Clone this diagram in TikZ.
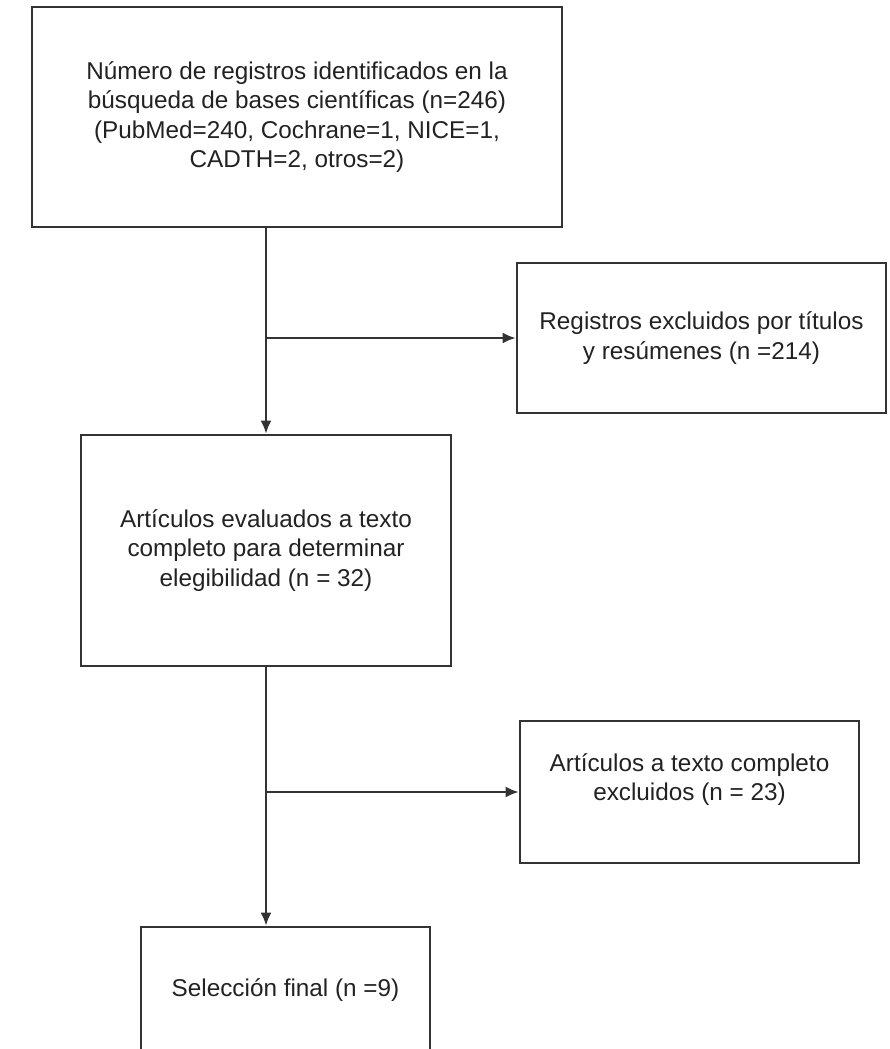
\documentclass[tikz,border=0pt]{standalone}
\usepackage{fontspec}
\setmainfont{Liberation Sans}
\usetikzlibrary{arrows.meta}
\definecolor{inkline}{HTML}{333333}
\definecolor{inktext}{HTML}{222222}

\begin{document}
\begin{tikzpicture}[x=1pt,y=-1pt,
  item/.style={rectangle,draw=inkline,line width=2.6pt,align=center,text=inktext,
    font=\fontsize{24.3}{29.5}\selectfont,inner sep=0pt},
  link/.style={draw=inkline,line width=2.2pt,-{Latex[length=13pt,width=11pt]}}]
 \clip (0,0) rectangle (889,1049);

 \node[item,minimum width=530pt,minimum height=220pt] (reg) at (297,117)
   {Número de registros identificados en la\\búsqueda de bases científicas (n=246)\\(PubMed=240, Cochrane=1, NICE=1,\\CADTH=2, otros=2)};
 \node[item,minimum width=369pt,minimum height=150pt] (exc1) at (701.5,338)
   {Registros excluidos por títulos\\y resúmenes (n =214)};
 \node[item,minimum width=370pt,minimum height=231pt] (art) at (266,550.5)
   {Artículos evaluados a texto\\completo para determinar\\elegibilidad (n = 32)};
 \node[item,minimum width=339pt,minimum height=142pt] (exc2) at (689.5,792)
   {Artículos a texto completo\\excluidos (n = 23)\\~};
 \node[item,minimum width=289pt,minimum height=126pt] (sel) at (285.5,990)
   {Selección final (n =9)};

 % flujo
 \draw[link] (reg.south -| art.north) -- (art.north);
 \draw[link] (art.north |- exc1.west) -- (exc1.west);
 \draw[link] (art.south) -- (art.south |- sel.north);
 \draw[link] (art.south |- exc2.west) -- (exc2.west);
\end{tikzpicture}
\end{document}
